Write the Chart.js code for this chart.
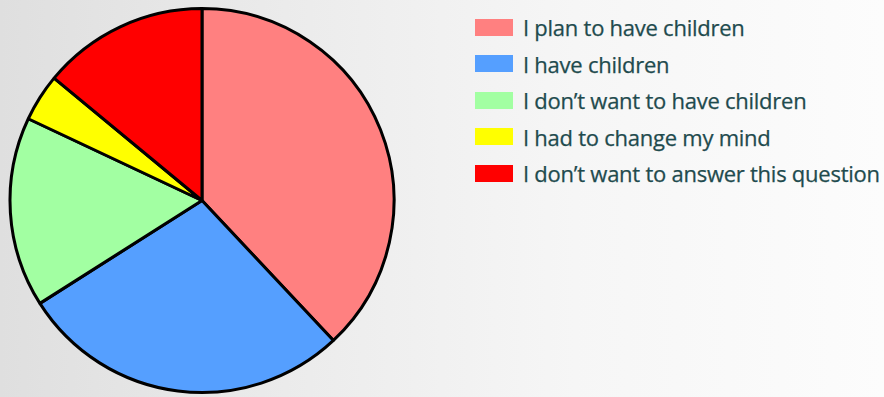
<!DOCTYPE html>
<html>
<head>
<meta charset="utf-8">
<script src="https://cdn.jsdelivr.net/npm/chart.js@4.4.0/dist/chart.umd.min.js"></script>
<style>
    html, body {
        margin: 0;
        padding: 0;
        width: 884px;
        height: 397px;
        overflow: hidden;
    }
    body {
        background: linear-gradient(to right, #dfdfdf 0%, #ececec 35%, #f6f6f6 65%, #fcfcfc 100%);
        position: relative;
    }
    #pieWrap {
        position: absolute;
        left: 0;
        top: 0;
        width: 404px;
        height: 397px;
    }
    #legend {
        position: absolute;
        left: 475px;
        top: 9px;
        font-family: "Open Sans", sans-serif;
        font-size: 22px;
        letter-spacing: -0.25px;
        -webkit-text-stroke: 0.25px #1f4b4e;
        color: #1f4b4e;
    }
    .legend-row {
        height: 36.5px;
        display: flex;
        align-items: center;
        white-space: nowrap;
    }
    .legend-box {
        width: 38px;
        height: 17px;
        margin-right: 10px;
        flex: none;
    }
</style>
</head>
<body>
<div id="pieWrap"><canvas id="pie"></canvas></div>
<div id="legend"></div>
<script>
var LABELS = ["I plan to have children", "I have children", "I don\u2019t want to have children", "I had to change my mind", "I don\u2019t want to answer this question"];
var VALUES = [38, 28, 16, 4, 14];
var COLORS = ["#ff8080", "#559fff", "#a2ffa2", "#ffff00", "#ff0000"];

var ctx = document.getElementById("pie").getContext("2d");
var pieChart = new Chart(ctx, {
    type: 'pie',
    data: {
        labels: LABELS,
        datasets: [{
            data: VALUES,
            backgroundColor: COLORS,
            borderColor: "#000000",
            borderWidth: 3
        }]
    },
    options: {
        responsive: true,
        maintainAspectRatio: false,
        animation: false,
        layout: {
            padding: { top: 7, bottom: 3, left: 0, right: 0 }
        },
        plugins: {
            legend: { display: false },
            tooltip: { enabled: false }
        }
    }
});

// html legend, built from the chart's own data
var legendDiv = document.getElementById("legend");
pieChart.data.labels.forEach(function(label, i) {
    var row = document.createElement("div");
    row.className = "legend-row";
    var box = document.createElement("span");
    box.className = "legend-box";
    box.style.background = pieChart.data.datasets[0].backgroundColor[i];
    var txt = document.createElement("span");
    txt.textContent = label;
    row.appendChild(box);
    row.appendChild(txt);
    legendDiv.appendChild(row);
});
</script>
</body>
</html>
